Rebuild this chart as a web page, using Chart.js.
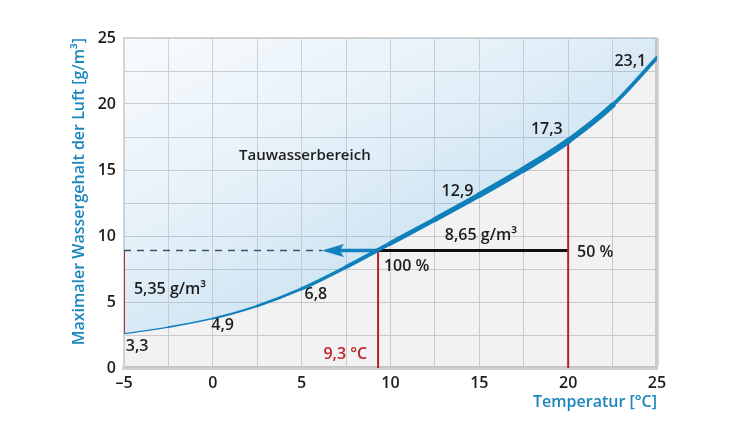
<!DOCTYPE html>
<html>
<head>
<meta charset="utf-8">
<script src="https://cdn.jsdelivr.net/npm/chart.js@4/dist/chart.umd.min.js"></script>
<style>
  html, body { margin: 0; padding: 0; background: #fff; }
  #wrap { width: 750px; height: 422px; }
</style>
</head>
<body>
<div id="wrap"><canvas id="myChart" width="750" height="422"></canvas></div>
<script>
// temperatures (°C) and max. water content (g/m3) as drawn
const temps = [-5, -2.5, 0, 2.5, 5, 7.5, 10, 12.5, 15, 17.5, 20, 22.5, 25];
const maxWater = [2.6, 3.1, 3.75, 4.7, 6.0, 7.65, 9.45, 11.25, 13.1, 15.05, 17.2, 19.9, 23.5];

// example: room air 20 °C / 50 % cooled down to the dew point
const dewPoint = 9.3;
const roomTemp = 20;
const waterLevel = 8.9;
const arrowEnd = 6.75;
const dashEnd = 6.15;

const xTicks = [-5, 0, 5, 10, 15, 20, 25];
const yTicks = [0, 5, 10, 15, 20, 25];

// curve labels
const valueLabels = ['3,3', '4,9', '6,8', '12,9', '17,3', '23,1'];

// line width of the curve per segment (thin at the ends, thick in the middle)
const curveWidths = [1.2, 1.7, 2.2, 2.8, 3.4, 4, 4.6, 5.2, 5.8, 6.2, 5.6, 3.8];

const blue = '#1080bb';
const red = '#c4222c';
const ink = '#1d1d1d';
const font = "'Open Sans', sans-serif";

const curvePts = temps.map((t, i) => ({ x: t, y: maxWater[i] }));

// arrow head as point image
const head = document.createElement('canvas');
head.width = 22; head.height = 13;
const hc = head.getContext('2d');
hc.fillStyle = blue;
hc.beginPath(); hc.moveTo(0, 6.5); hc.lineTo(22, 0); hc.lineTo(18, 6.5); hc.lineTo(22, 13); hc.closePath(); hc.fill();

function vline(x, y0, y1) {
  return {
    data: [{ x: x, y: y0 }, { x: x, y: y1 }],
    borderColor: red, borderWidth: 2, pointRadius: 0, fill: false
  };
}

// texts placed in data coordinates
const notes = [
  { text: valueLabels[0], x: -4.9, y: 1.6, align: 'left' },
  { text: valueLabels[1], x: 0.55, y: 3.2, align: 'center' },
  { text: valueLabels[2], x: 5.8, y: 5.6, align: 'center' },
  { text: valueLabels[3], x: 13.77, y: 13.35, align: 'center' },
  { text: valueLabels[4], x: 18.8, y: 18.1, align: 'center' },
  { text: valueLabels[5], x: 23.5, y: 23.26, align: 'center' },
  { text: 'Tauwasserbereich', x: 5.18, y: 16.06, align: 'center', size: 15 },
  { text: '5,35 g/m³', x: -4.44, y: 5.98, align: 'left' },
  { text: '8,65 g/m³', x: 13.06, y: 10.04, align: 'left' },
  { text: '100 %', x: 9.63, y: 7.73, align: 'left' },
  { text: '50 %', x: 20.5, y: 8.79, align: 'left' },
  { text: '9,3 °C', x: 8.69, y: 1.06, align: 'right', color: red }
];

const plotBack = {
  id: 'plotBack',
  beforeDraw(chart) {
    const ctx = chart.ctx;
    ctx.save();
    ctx.fillStyle = '#fff';
    ctx.fillRect(0, 0, chart.width, chart.height);
    ctx.restore();
  }
};

const notesPlugin = {
  id: 'notes',
  afterDatasetsDraw(chart) {
    const ctx = chart.ctx;
    const xs = chart.scales.x, ys = chart.scales.y;
    ctx.save();
    ctx.textBaseline = 'middle';
    notes.forEach(n => {
      ctx.font = "600 " + (n.size || 16) + "px " + font;
      ctx.fillStyle = n.color || ink;
      ctx.textAlign = n.align;
      ctx.fillText(n.text, xs.getPixelForValue(n.x), ys.getPixelForValue(n.y));
    });
    ctx.restore();
  }
};

var ctx = document.getElementById('myChart').getContext('2d');
var chart = new Chart(ctx, {
  type: 'line',
  data: {
    datasets: [
      {
        // saturation curve with blue area above it
        data: curvePts,
        borderColor: blue,
        borderWidth: 4,
        borderCapStyle: 'round',
        cubicInterpolationMode: 'monotone',
        pointRadius: 0,
        segment: {
          borderWidth: c => curveWidths[c.p0DataIndex]
        },
        fill: 'end',
        backgroundColor: function (c) {
          const a = c.chart.chartArea;
          if (!a) return 'rgba(30,130,200,0.12)';
          const g = c.chart.ctx.createLinearGradient(a.left, a.top, a.left + 150, a.top + 290);
          g.addColorStop(0, 'rgba(30,130,200,0.03)');
          g.addColorStop(0.6, 'rgba(30,130,200,0.12)');
          g.addColorStop(1, 'rgba(30,130,200,0.22)');
          return g;
        }
      },
      {
        // gray area below the curve
        data: curvePts,
        borderWidth: 0,
        cubicInterpolationMode: 'monotone',
        pointRadius: 0,
        fill: 'start',
        backgroundColor: 'rgba(0,0,0,0.05)'
      },
      vline(-5, waterLevel, maxWater[0]),
      vline(dewPoint, waterLevel, 0),
      vline(roomTemp, maxWater[10], 0),
      {
        data: [{ x: dewPoint, y: waterLevel }, { x: roomTemp, y: waterLevel }],
        borderColor: '#111', borderWidth: 3, pointRadius: 0, fill: false
      },
      {
        data: [{ x: dewPoint, y: waterLevel }, { x: arrowEnd, y: waterLevel }],
        borderColor: blue, borderWidth: 3.5, fill: false,
        pointRadius: [0, 8], pointStyle: head
      },
      {
        data: [{ x: -5, y: waterLevel }, { x: dashEnd, y: waterLevel }],
        borderColor: '#3f4d57', borderWidth: 1.5, borderDash: [7, 6], pointRadius: 0, fill: false
      }
    ]
  },
  options: {
    responsive: false,
    animation: false,
    layout: { padding: { left: 60, top: 38, right: 93, bottom: 0 } },
    plugins: {
      legend: { display: false },
      tooltip: { enabled: false }
    },
    scales: {
      x: {
        type: 'linear',
        min: -5, max: 25,
        afterFit(scale) { scale.height = 54; },
        ticks: {
          stepSize: 2.5,
          padding: 6,
          color: ink,
          font: { family: font, size: 16, weight: '600' },
          maxRotation: 0,
          callback: v => xTicks.includes(v) ? (v < 0 ? '–' + Math.abs(v) : String(v)) : ''
        },
        grid: {
          drawTicks: false,
          color: '#d4d4d4',
          lineWidth: c => (c.tick && c.tick.value === 25 ? 4 : 1)
        },
        border: { color: '#d0d0d0', width: 4 },
        title: {
          display: true,
          text: 'Temperatur [°C]',
          align: 'end',
          color: '#1a86bd',
          font: { family: font, size: 16, weight: '600' },
          padding: { top: 0, bottom: 10 }
        }
      },
      y: {
        min: 0, max: 25,
        afterFit(scale) { scale.width = 64; },
        ticks: {
          stepSize: 2.5,
          padding: 8,
          color: ink,
          font: { family: font, size: 16, weight: '600' },
          callback: v => yTicks.includes(v) ? String(v) : ''
        },
        grid: {
          drawTicks: false,
          color: '#d4d4d4',
          lineWidth: c => (c.tick && c.tick.value === 25 ? 2 : 1)
        },
        border: { color: '#d8d8d8', width: 2 },
        title: {
          display: true,
          text: 'Maximaler Wassergehalt der Luft [g/m³]',
          align: 'end',
          color: '#1a86bd',
          font: { family: font, size: 16, weight: '600' },
          padding: { top: 10, bottom: 0 }
        }
      }
    }
  },
  plugins: [plotBack, notesPlugin]
});
</script>
</body>
</html>
